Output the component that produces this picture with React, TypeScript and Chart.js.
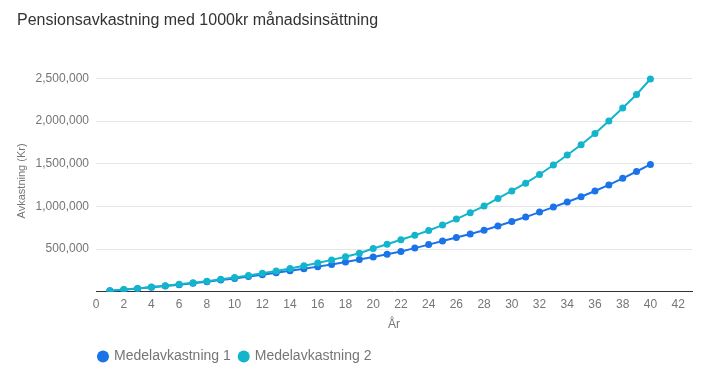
import React, { useEffect, useRef } from "react";
import { Chart, registerables } from "chart.js";

Chart.register(...registerables);

const chartTitle = "Pensionsavkastning med 1000kr månadsinsättning";
const yAxisTitle = "Avkastning (Kr)";
const xAxisTitle = "År";
const seriesNames = ["Medelavkastning 1", "Medelavkastning 2"];

const years = [
  1, 2, 3, 4, 5, 6, 7, 8, 9, 10, 11, 12, 13, 14, 15, 16, 17, 18, 19, 20,
  21, 22, 23, 24, 25, 26, 27, 28, 29, 30, 31, 32, 33, 34, 35, 36, 37, 38, 39, 40,
];

const series1 = [
  12000, 25000, 38000, 52000, 67000, 83000, 100000, 118000, 137000, 157000,
  178000, 200000, 222000, 246000, 270000, 295000, 321000, 350000, 379000, 408000,
  440000, 472000, 512000, 553000, 595000, 636000, 678000, 722000, 772000, 824000,
  876000, 934000, 993000, 1052000, 1114000, 1182000, 1253000, 1330000, 1410000, 1493000,
];

const series2 = [
  12400, 26000, 40000, 55000, 71000, 88000, 106000, 125000, 146000, 168000,
  192000, 217000, 244000, 273000, 305000, 338000, 374000, 412000, 452000, 508000,
  558000, 611000, 662000, 718000, 782000, 852000, 928000, 1005000, 1094000, 1182000,
  1273000, 1375000, 1486000, 1604000, 1724000, 1856000, 2001000, 2155000, 2313000, 2494000,
];

const yTicks = [500000, 1000000, 1500000, 2000000, 2500000];
const xTicks = [0, 2, 4, 6, 8, 10, 12, 14, 16, 18, 20, 22, 24, 26, 28, 30, 32, 34, 36, 38, 40, 42];

const colors = ["#1a73e8", "#12b5cb"];
const FONT = "'Liberation Sans', Arial, sans-serif";

const legendShift = {
  id: "legendShift",
  afterLayout(chart: any) {
    const lg = chart.legend;
    if (lg) {
      lg.left -= 6;
      lg.right -= 6;
    }
  },
};

export default function App() {
  const ref = useRef<HTMLCanvasElement>(null);

  useEffect(() => {
    if (!ref.current) return;
    const chart = new Chart(ref.current, {
      type: "line",
      data: {
        datasets: [
          {
            label: seriesNames[0],
            data: years.map((x, i) => ({ x, y: series1[i] })),
            borderColor: colors[0],
            backgroundColor: colors[0],
            borderWidth: 2,
            pointRadius: 3.5,
            pointBorderWidth: 0,
            pointHoverRadius: 4,
            order: 1,
          },
          {
            label: seriesNames[1],
            data: years.map((x, i) => ({ x, y: series2[i] })),
            borderColor: colors[1],
            backgroundColor: colors[1],
            borderWidth: 2,
            pointRadius: 3.5,
            pointBorderWidth: 0,
            pointHoverRadius: 4,
            order: 0,
          },
        ],
      },
      options: {
        responsive: false,
        animation: false,
        layout: { padding: { left: 17, right: 16, top: 0, bottom: 6.6 } },
        plugins: {
          title: {
            display: true,
            text: chartTitle,
            align: "start",
            color: "#333333",
            font: { family: FONT, size: 16, weight: "normal" },
            padding: { top: 11.4, bottom: 39.4 },
          },
          legend: {
            position: "bottom",
            align: "start",
            fullSize: false,
            labels: {
              usePointStyle: true,
              pointStyle: "circle",
              boxWidth: 8,
              boxHeight: 8.5,
              padding: 9,
              color: "#757575",
              font: { family: FONT, size: 14 },
              sort: (a: any, b: any) => a.datasetIndex - b.datasetIndex,
            },
          },
          tooltip: { enabled: false },
        },
        scales: {
          x: {
            type: "linear",
            min: 0,
            max: 43,
            afterBuildTicks: (scale: any) => {
              scale.ticks = xTicks.map((v) => ({ value: v }));
            },
            afterFit: (scale: any) => {
              scale.height = 48.6;
            },
            grid: { display: false, drawTicks: false },
            border: { display: true, color: "#333333", width: 1 },
            ticks: {
              padding: 6,
              color: "#757575",
              maxRotation: 0,
              autoSkip: false,
              font: { family: FONT, size: 12 },
            },
            title: {
              display: true,
              text: xAxisTitle,
              color: "#757575",
              font: { family: FONT, size: 12 },
              padding: { top: 0, bottom: 8.4 },
            },
          },
          y: {
            type: "linear",
            min: 0,
            max: 2600000,
            afterBuildTicks: (scale: any) => {
              scale.ticks = yTicks.map((v) => ({ value: v }));
            },
            afterFit: (scale: any) => {
              scale.width = 79;
            },
            grid: { color: "#e6e6e6", drawTicks: false },
            border: { display: false },
            ticks: {
              padding: 7,
              color: "#757575",
              font: { family: FONT, size: 12 },
              callback: (v: any) => Number(v).toLocaleString("en-US"),
            },
            title: {
              display: true,
              text: yAxisTitle,
              color: "#757575",
              font: { family: FONT, size: 11 },
              padding: { top: -2, bottom: 0 },
            },
          },
        },
      },
      plugins: [legendShift],
    } as any);
    return () => chart.destroy();
  }, []);

  return (
    <div style={{ position: "absolute", left: 0, top: 0, width: 708, height: 380, background: "#fff" }}>
      <canvas ref={ref} width={708} height={380} style={{ display: "block" }} />
    </div>
  );
}
